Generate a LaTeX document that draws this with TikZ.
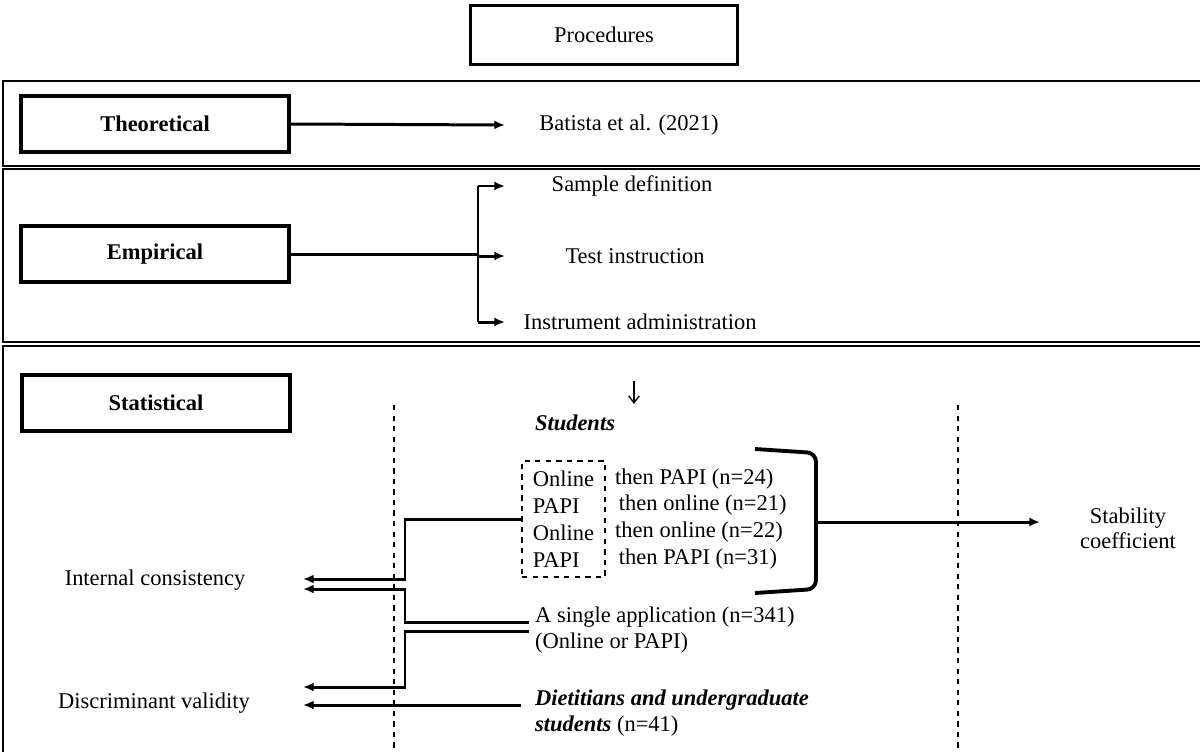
\documentclass[tikz,border=0pt]{standalone}
\usepackage{fontspec}
\setmainfont{Liberation Serif}
\usetikzlibrary{arrows.meta}

\begin{document}
\begin{tikzpicture}
  [x=0.02cm,y=-0.02cm,every path/.style={>={Latex[length=6pt,width=5pt]}},
   every node/.style={font=\fontsize{12.8}{15.3}\selectfont},
   stage/.style={draw, line width=2.3pt, minimum width=5.36cm, minimum height=1.12cm, font=\fontsize{12.8}{15.3}\selectfont\bfseries},
   frame/.style={draw, line width=1.1pt},
   conn/.style={line width=1.7pt},
   vdash/.style={dashed, line width=0.6pt}]
  \useasboundingbox (0,0) rectangle (1200,751);
  \clip (0,0) rectangle (1200,751);

  % panels
  \draw[frame] (3,81) rectangle (1205,166);
  \draw[frame] (3,169) rectangle (1205,342);
  \draw[frame] (3,346) rectangle (1205,758);

  \node[draw, line width=1.7pt, minimum width=5.36cm, minimum height=1.18cm] (proc) at (604,35) {Procedures};

  \node[stage] (theo) at (155,124) {Theoretical};
  \node[stage] (emp)  at (155,254) {Empirical};
  \node[stage] (stat) at (156,403) {Statistical};

  \node (batista)  at (629,125) {Batista et al. (2021)};
  \node (sample)   at (632,186) {Sample definition};
  \node (testinst) at (635,256) {Test instruction};
  \node (instadm)  at (640,322) {Instrument administration};

  \coordinate (theoend) at (505,125);
  \draw[conn,->] (theo.east) -- (theoend);

  \coordinate (br) at (478,254);
  \draw[conn] (emp.east) -- (br);
  \draw[conn] (br |- sample) -- (br |- instadm);
  \foreach \t in {sample,testinst,instadm}
    \draw[conn,->] (br |- \t) -- ++(27,0);

  % statistical part
  \draw[vdash] (394,405) -- (394,760);
  \draw[vdash] (958,405) -- (958,760);

  \coordinate (dtop) at (634,381);
  \draw[line width=0.8pt,-{Straight Barb[length=4pt,width=6pt]}] (dtop) -- ++(0,23);

  \node[font=\fontsize{12.8}{15.3}\selectfont\bfseries\itshape] (students) at (575,423) {Students};

  \node[draw, dashed, line width=0.6pt, minimum width=1.66cm, minimum height=2.32cm, align=left] (seqbox) at (563.5,519) {Online\\PAPI\\Online\\PAPI};
  \node[anchor=west, align=left] (seqr) at (609,519) {then PAPI (n=24)\\\,then online (n=21)\\then online (n=22)\\\,then PAPI (n=31)};

  \draw[line width=2.2pt, rounded corners=5pt] (755,449) -- (816,453) -- (816,589) -- (755,593);
  \coordinate (brk) at (816,522);
  \coordinate (stabin) at (1040,522);
  \draw[conn,->] (brk) -- (stabin);
  \node[align=center, font=\fontsize{12.8}{14.2}\selectfont] (stab) at (1128,528) {Stability\\coefficient};

  \node (internal) at (155,580) {Internal consistency};
  \node (discr) at (154,703) {Discriminant validity};

  \node[anchor=west, align=left, font=\fontsize{12.8}{14.8}\selectfont] (single) at (529,630) {A single application (n=341)\\(Online or PAPI)};
  \node[anchor=west, align=left, font=\fontsize{12.8}{14.8}\selectfont] (diet) at (529,713) {\textbf{\textit{Dietitians and undergraduate}}\\\textbf{\textit{students}} (n=41)};

  \coordinate (jog) at (405,0);
  \coordinate (ic1) at (303,579);
  \coordinate (ic2) at (303,589);
  \coordinate (dv1) at (303,687);
  \coordinate (dv2) at (303,705);

  \draw[conn,->] (seqbox.west) -| (jog |- ic1) -- (ic1);
  \draw[conn,->] ([yshift=4.5pt]single.west) -| (jog |- ic2) -- (ic2);
  \draw[conn,->] ([yshift=-1.1pt]single.west) -| (jog |- dv1) -- (dv1);
  \draw[conn,->] (dv2 -| seqbox.west) -- (dv2);
\end{tikzpicture}
\end{document}
